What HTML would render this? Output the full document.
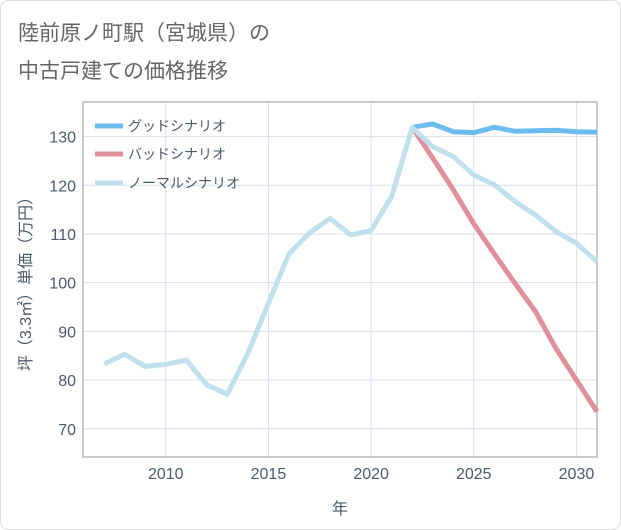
<!DOCTYPE html>
<html><head><meta charset="utf-8">
<style>
html,body{margin:0;padding:0;background:#fff;}
svg{display:block;font-family:"Liberation Sans","Noto Sans CJK JP",sans-serif;}
</style></head><body>
<svg id="chart" width="621" height="530" viewBox="0 0 621 530" xmlns="http://www.w3.org/2000/svg">
<rect x="0.5" y="0.5" width="620" height="529" rx="8" fill="#fff" stroke="#ddd"/>
<text x="18" y="40" font-size="21" fill="#666">陸前原ノ町駅（宮城県）の</text>
<text x="18" y="78" font-size="21" fill="#666">中古戸建ての価格推移</text>
<g id="grid"></g>
<rect x="83" y="102" width="514" height="355" fill="none" stroke="#999" stroke-width="1"/>
<g id="yticks"></g>
<g id="xticks"></g>
<g id="series"></g>
<text transform="translate(31,280) rotate(-90)" text-anchor="middle" font-size="16" fill="#4a5a6a">坪（3.3㎡）単価（万円）</text>
<text x="340" y="514" text-anchor="middle" font-size="16" fill="#4a5a6a">年</text>
<g>
<line x1="95" y1="126" x2="123" y2="126" stroke="#6cbcf0" stroke-width="5"/>
<text x="128" y="131" font-size="14" fill="#4a5a6a">グッドシナリオ</text>
<line x1="95" y1="154" x2="123" y2="154" stroke="#e0909a" stroke-width="5"/>
<text x="128" y="159" font-size="14" fill="#4a5a6a">バッドシナリオ</text>
<line x1="95" y1="183" x2="123" y2="183" stroke="#c0e0ec" stroke-width="5"/>
<text x="128" y="188" font-size="14" fill="#4a5a6a">ノーマルシナリオ</text>
</g>
</svg>
<script>
const normalYears = [2007,2008,2009,2010,2011,2012,2013,2014,2015,2016,2017,2018,2019,2020,2021,2022,2023,2024,2025,2026,2027,2028,2029,2030,2031];
const normalValues = [83.3,85.3,82.8,83.2,84.1,79.0,77.1,85.5,95.8,105.9,110.2,113.2,109.8,110.7,117.7,131.9,127.9,125.9,122.1,120.1,116.7,113.9,110.5,108.1,104.3];
const futureYears = [2022,2023,2024,2025,2026,2027,2028,2029,2030,2031];
const goodValues = [131.9,132.6,131.0,130.8,131.9,131.1,131.2,131.3,131.0,130.9];
const badValues = [131.9,125.6,119.1,112.1,105.9,99.9,94.1,86.5,80.0,73.5];
const xTicks = [2010,2015,2020,2025,2030];
const yTicks = [70,80,90,100,110,120,130];

const NS = "http://www.w3.org/2000/svg";
const X0 = 83, X1 = 597, Y0 = 457, Y1 = 102;
const xMin = 2005.97, xMax = 2031, yMin = 64.2, yMax = 137.1;
function xs(v){ return X0 + (v - xMin) / (xMax - xMin) * (X1 - X0); }
function ys(v){ return Y0 - (v - yMin) / (yMax - yMin) * (Y0 - Y1); }

const grid = document.getElementById('grid');
const yt = document.getElementById('yticks');
const xt = document.getElementById('xticks');
yTicks.forEach(t => {
  const l = document.createElementNS(NS,'line');
  
  
  l.setAttribute('x1',X0); l.setAttribute('x2',X1);
  l.setAttribute('y1',ys(t)); l.setAttribute('y2',ys(t));
  l.setAttribute('stroke','#d6e2ea'); l.setAttribute('stroke-width','1');
  grid.appendChild(l);
  const tx = document.createElementNS(NS,'text');
  
  
  tx.setAttribute('x',76); tx.setAttribute('y',ys(t)+6);
  tx.setAttribute('text-anchor','end'); tx.setAttribute('font-size','16'); tx.setAttribute('fill','#4a5a6a');
  tx.textContent = t;
  yt.appendChild(tx);
});
xTicks.forEach(t => {
  const l = document.createElementNS(NS,'line');
  
  
  l.setAttribute('x1',xs(t)); l.setAttribute('x2',xs(t));
  l.setAttribute('y1',Y1); l.setAttribute('y2',Y0);
  l.setAttribute('stroke','#d6e2ea'); l.setAttribute('stroke-width','1');
  grid.appendChild(l);
  const tx = document.createElementNS(NS,'text');
  
  
  tx.setAttribute('x',xs(t)); tx.setAttribute('y',479);
  tx.setAttribute('text-anchor','middle'); tx.setAttribute('font-size','16'); tx.setAttribute('fill','#4a5a6a');
  tx.textContent = t;
  xt.appendChild(tx);
});
const series = document.getElementById('series');
function addLine(years, vals, color, name){
  const p = document.createElementNS(NS,'polyline');
  
  
  p.setAttribute('points', years.map((y,i)=>xs(y)+','+ys(vals[i])).join(' '));
  p.setAttribute('fill','none'); p.setAttribute('stroke',color);
  p.setAttribute('stroke-width','5'); p.setAttribute('stroke-linejoin','round');
  series.appendChild(p);
}
addLine(futureYears, goodValues, '#6cbcf0', 'good-scenario-line');
addLine(futureYears, badValues, '#e0909a', 'bad-scenario-line');
addLine(normalYears, normalValues, '#c0e0ec', 'normal-scenario-line');
</script>
</body></html>
